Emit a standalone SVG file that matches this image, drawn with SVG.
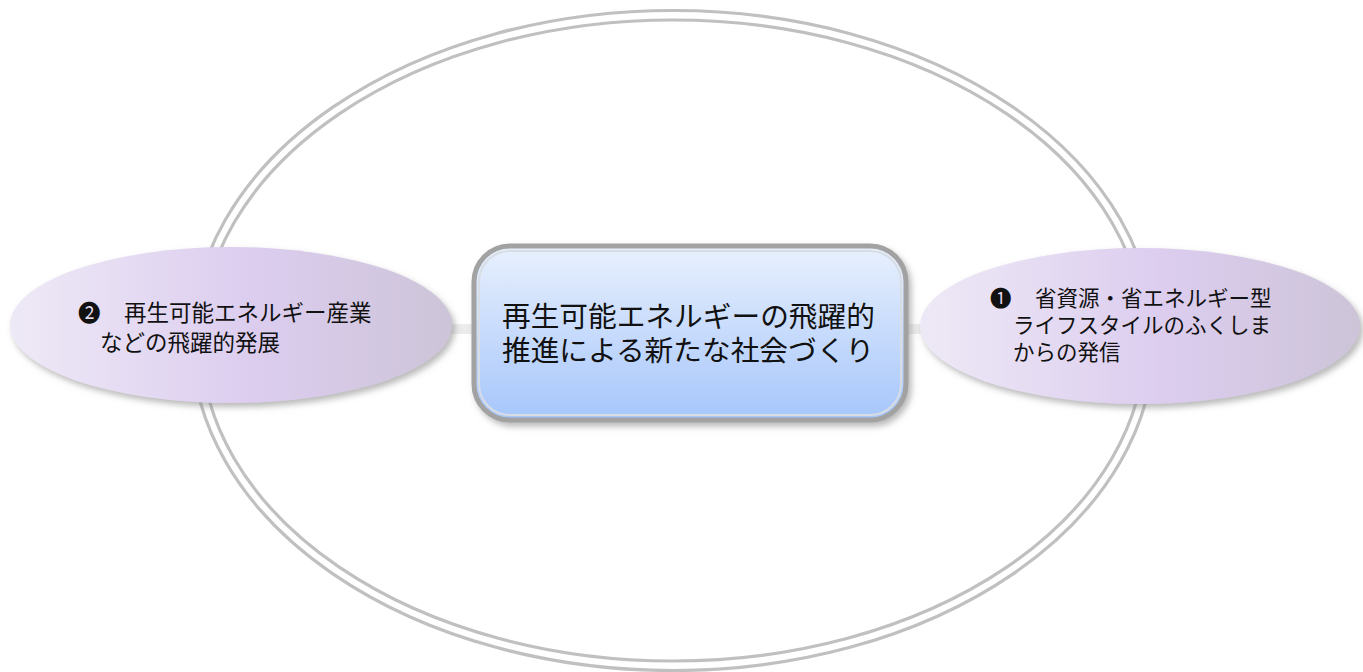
<svg xmlns="http://www.w3.org/2000/svg" width="1363" height="672" viewBox="0 0 1363 672">
<style>
.ring{fill:none;stroke:#c0c0c0;stroke-width:3.2}
.t{font-family:"Noto Sans CJK JP","DejaVu Sans",sans-serif;fill:#111}
.sl{font-size:22.5px}
.sr{font-size:21.5px}
.main{font-size:28.7px}
</style>
<defs>
<linearGradient id="lav" x1="0" y1="0" x2="1" y2="0">
<stop offset="0" stop-color="#eee9f6"/>
<stop offset="0.55" stop-color="#dccdef"/>
<stop offset="1" stop-color="#cdc4d8"/>
</linearGradient>
<linearGradient id="blue" x1="0" y1="0" x2="0" y2="1">
<stop offset="0" stop-color="#e8f0fd"/>
<stop offset="1" stop-color="#a6c6fb"/>
</linearGradient>
<filter id="sh" x="-10%" y="-20%" width="125%" height="150%">
<feGaussianBlur in="SourceAlpha" stdDeviation="3"/>
<feOffset dx="3" dy="4" result="b"/>
<feFlood flood-color="#808080" flood-opacity="0.55"/>
<feComposite in2="b" operator="in"/>
<feMerge><feMergeNode/><feMergeNode in="SourceGraphic"/></feMerge>
</filter>
</defs>
<g id="ring">
<ellipse class="ring" cx="673" cy="340.5" rx="481" ry="330"/>
<ellipse class="ring" cx="673" cy="340.5" rx="472" ry="320.5"/>
</g>
<g id="connectors">
<rect x="300" y="324" width="780" height="10" fill="#ececec"/>
</g>
<g id="node-left">
<ellipse cx="231" cy="325" rx="221" ry="78" fill="url(#lav)" filter="url(#sh)"/>
<text class="t sl" y="321"><tspan x="78">❷</tspan><tspan x="124">再生可能エネルギー産業</tspan></text>
<text class="t sl" x="100" y="351">などの飛躍的発展</text>
</g>
<g id="node-right">
<ellipse cx="1140" cy="326" rx="220" ry="78" fill="url(#lav)" filter="url(#sh)"/>
<text class="t sr" y="306"><tspan x="990">❶</tspan><tspan x="1035">省資源・省エネルギー型</tspan></text>
<text class="t sr" x="1013" y="333">ライフスタイルのふくしま</text>
<text class="t sr" x="1013" y="360">からの発信</text>
</g>
<g id="node-center">
<rect x="474" y="246" width="432" height="174" rx="36" fill="url(#blue)" stroke="#a2a2a2" stroke-width="5" filter="url(#sh)"/>
<rect x="479" y="251" width="422" height="164" rx="31" fill="none" stroke="#d8dde4" stroke-width="2"/>
<text class="t main" x="502" y="327">再生可能エネルギーの飛躍的</text>
<text class="t main" x="502" y="361">推進による新たな社会づくり</text>
</g>
</svg>
